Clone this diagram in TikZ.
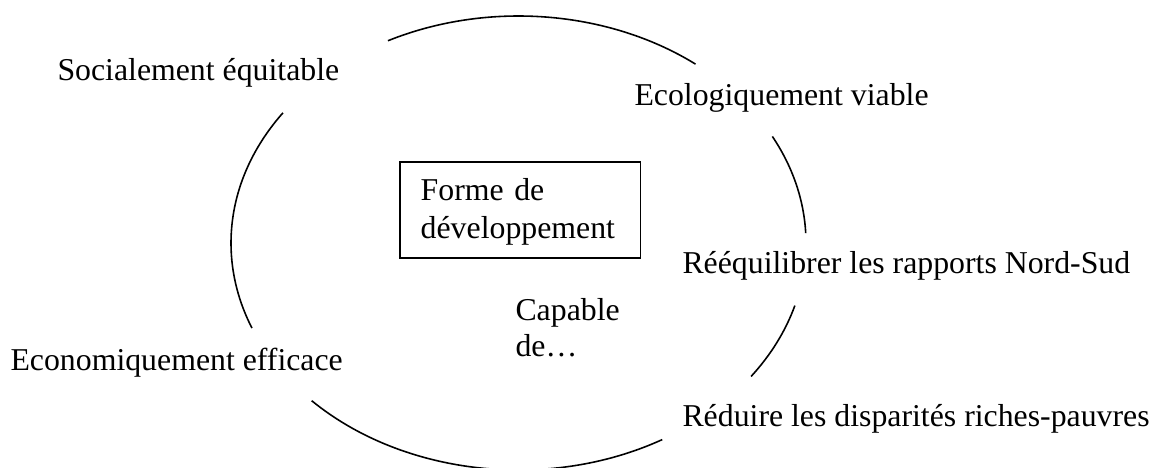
\documentclass[tikz,border=0pt]{standalone}
\usepackage{fontspec}
\setmainfont{Liberation Serif}
\begin{document}
\begin{tikzpicture}[x=0.3774pt,y=0.3774pt,
	lbl/.style={anchor=base west,inner sep=0pt,font=\fontsize{12}{14.3}\selectfont}]
	\useasboundingbox (0,0) rectangle (1156,-468);
	\coordinate (ctr) at (518.5,-243);

	\draw[semithick] ([shift={(52:287.5 and 227)}]ctr) arc[start angle=52,end angle=117,x radius=287.5,y radius=227];
	\draw[semithick] ([shift={(2.5:287.5 and 227)}]ctr) arc[start angle=2.5,end angle=28,x radius=287.5,y radius=227];
	\draw[semithick] ([shift={(-36:287.5 and 227)}]ctr) arc[start angle=-36,end angle=-16,x radius=287.5,y radius=227];
	\draw[semithick] ([shift={(-136:287.5 and 227)}]ctr) arc[start angle=-136,end angle=-60,x radius=287.5,y radius=227];
	\draw[semithick] ([shift={(145:287.5 and 227)}]ctr) arc[start angle=145,end angle=202,x radius=287.5,y radius=227];

	\node[lbl] (social) at (57,-81) {Socialement équitable};
	\node[lbl] (ecolo) at (634,-106) {Ecologiquement viable};
	\node[lbl] (eco) at (10,-370) {Economiquement efficace};
	\node[lbl] (reeq) at (682,-274) {Rééquilibrer les rapports Nord-Sud};
	\node[lbl] (reduire) at (682,-426) {Réduire les disparités riches-pauvres};

	\node[draw,semithick,anchor=north west,inner xsep=7.9pt,inner ysep=0pt,minimum height=36.2pt,
		text width=75pt,align=left,font=\fontsize{12}{14.3}\selectfont] (forme) at (399,-161) {\strut Forme de\\développement};
	\node[anchor=north west,inner sep=0pt,align=left,font=\fontsize{12}{13.6}\selectfont] (capable) at (515,-298) {Capable\\de…};
\end{tikzpicture}
\end{document}
